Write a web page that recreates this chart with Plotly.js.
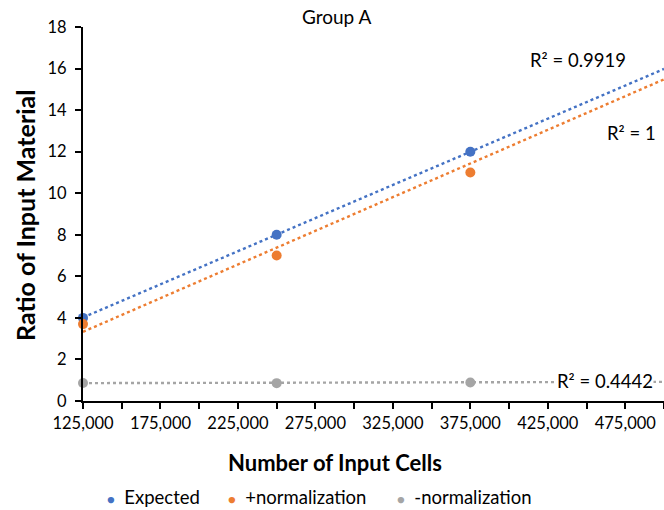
<!DOCTYPE html>
<html>
<head>
<meta charset="utf-8">
<script src="https://cdn.plot.ly/plotly-3.0.1.min.js"></script>
<style>html,body{margin:0;padding:0;background:#fff;}#chart{width:664px;height:510px;}</style>
</head>
<body>
<div id="chart"></div>
<script>
// Data
const cells = [125000, 250000, 375000];
const expected = [4.0, 8.0, 12.0];
const plusNorm = [3.7, 7.0, 11.0];
const minusNorm = [0.87, 0.86, 0.89];

// Trendline end points (x at start and end of the forecast range)
const trendX = [125000, 500000];
const trendExpected = [4.02, 15.98];
const trendPlusNorm = [3.33, 15.48];
const trendMinusNorm = [0.86, 0.92];

const seriesNames = ['Expected', '+normalization', '-normalization'];
const r2Labels = ['R² = 0.9919', 'R² = 1', 'R² = 0.4442'];

const xTickVals = [125000, 175000, 225000, 275000, 325000, 375000, 425000, 475000];

const colors = ['#4472C4', '#ED7D31', '#A5A5A5'];
const font = 'Lato, "Noto Sans", sans-serif';

const pts = [expected, plusNorm, minusNorm];
const trends = [trendExpected, trendPlusNorm, trendMinusNorm];

const traces = [];
trends.forEach((t, i) => {
  traces.push({
    x: trendX, y: t, type: 'scatter', mode: 'lines',
    line: {color: colors[i], width: 2.4, dash: 'dot'},
    showlegend: false, hoverinfo: 'skip', cliponaxis: false
  });
});
pts.forEach((p, i) => {
  traces.push({
    x: cells, y: p, type: 'scatter', mode: 'markers', name: seriesNames[i],
    marker: {color: colors[i], size: 10},
    cliponaxis: false, showlegend: false
  });
});

const PW = 581, PH = 374;
const px = (X) => (X - 83) / PW;
const py = (Y) => (401 - Y) / PH;

// legend drawn as text entries (positions are layout, names come from seriesNames)
const legendX = [111, 232, 401];
const legendAnn = seriesNames.map((n, i) => ({
  text: '<span style="color:' + colors[i] + ';font-size:13px">●</span>  ' + n,
  xref: 'paper', yref: 'paper', x: px(legendX[i] - 6), y: py(497),
  xanchor: 'left', yanchor: 'middle', showarrow: false,
  font: {family: font, size: 18.5, color: '#000'}
}));

const r2Pos = [[578, 60], [631, 133], [605, 381]];
const r2Ann = r2Labels.map((t, i) => ({
  text: t, xref: 'paper', yref: 'paper', x: px(r2Pos[i][0]), y: py(r2Pos[i][1]),
  xanchor: 'center', yanchor: 'middle', showarrow: false,
  bgcolor: i === 2 ? '#fff' : 'rgba(0,0,0,0)', borderpad: 0,
  font: {family: font, size: 18.5, color: '#000'}
}));

const layout = {
  width: 664, height: 510,
  margin: {l: 83, r: 0, t: 27, b: 109},
  paper_bgcolor: '#fff', plot_bgcolor: '#fff',
  font: {family: font, color: '#000', size: 15},
  title: {text: 'Group A', font: {family: font, size: 19, color: '#000'},
          x: 0.507, xref: 'container', xanchor: 'center', y: 1 - 17/510, yref: 'container', yanchor: 'middle'},
  xaxis: {
    range: [125000, 500000],
    tickvals: xTickVals, tickformat: ',d',
    ticks: 'outside', ticklen: 6, tickwidth: 2, tickcolor: '#000',
    minor: {dtick: 25000, tick0: 125000, ticks: 'outside', ticklen: 6, tickwidth: 2, tickcolor: '#000', showgrid: false},
    showline: true, linecolor: '#000', linewidth: 2,
    showgrid: false, zeroline: false,
    tickfont: {family: font, size: 16.5, color: '#000'},
    fixedrange: true
  },
  yaxis: {
    range: [0, 18], dtick: 2, tick0: 0,
    ticks: 'outside', ticklen: 6, tickwidth: 2, tickcolor: '#000',
    showline: true, linecolor: '#000', linewidth: 2,
    showgrid: false, zeroline: false, ticklabelstandoff: 5,
    tickfont: {family: font, size: 16.5, color: '#000'},
    fixedrange: true
  },
  showlegend: false,
  annotations: [
    {text: '<b>Number of Input Cells</b>', xref: 'paper', yref: 'paper', x: px(335), y: py(462),
     xanchor: 'center', yanchor: 'middle', showarrow: false, font: {family: font, size: 22, color: '#000'}},
    {text: '<b>Ratio of Input Material</b>', xref: 'paper', yref: 'paper', x: px(25), y: py(216),
     xanchor: 'center', yanchor: 'middle', textangle: -90, showarrow: false, font: {family: font, size: 25, color: '#000'}}
  ].concat(r2Ann, legendAnn)
};

Plotly.newPlot('chart', traces, layout, {displayModeBar: false, staticPlot: true});
</script>
</body>
</html>
